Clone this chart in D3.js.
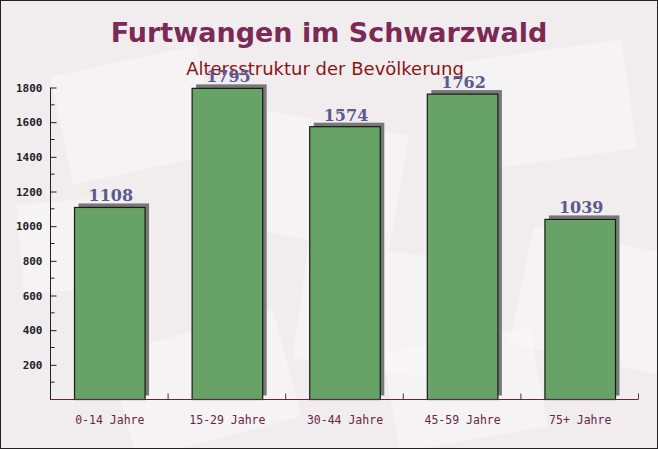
<!DOCTYPE html>
<html><head><meta charset="utf-8">
<script src="https://cdn.jsdelivr.net/npm/d3@7"></script>
<style>html,body{margin:0;padding:0;background:#fff}</style>
</head><body>
<script>
const categories = ["0-14 Jahre","15-29 Jahre","30-44 Jahre","45-59 Jahre","75+ Jahre"];
const values = [1108,1795,1574,1762,1039];
const yTicks = [200,400,600,800,1000,1200,1400,1600,1800];
const title = "Furtwangen im Schwarzwald";
const subtitle = "Altersstruktur der Bevölkerung";

const W = 658, H = 449;
const svg = d3.select("body").append("svg").attr("width", W).attr("height", H);

// background
svg.append("rect").attr("x",0).attr("y",0).attr("width",W).attr("height",H).attr("fill","#f1edef");
const deco = svg.append("g");
const shapes = [[60,60,150,110,-12],[230,120,170,120,10],[470,50,160,110,-8],[520,240,150,120,12],[120,330,170,110,-15],[300,250,160,120,8],[20,200,110,90,-5],[390,340,150,100,-10]];
shapes.forEach(s=>{
  deco.append("rect").attr("x",s[0]).attr("y",s[1]).attr("width",s[2]).attr("height",s[3])
    .attr("fill","#faf8f8").attr("opacity",0.55)
    .attr("transform",`rotate(${s[4]},${s[0]+s[2]/2},${s[1]+s[3]/2})`);
});
svg.append("rect").attr("x",0.5).attr("y",0.5).attr("width",W-1).attr("height",H-1)
  .attr("fill","none").attr("stroke","#222").attr("stroke-width",1);

const x = d3.scaleBand().domain(categories).range([51,639]).paddingInner(0.4).paddingOuter(0.2);
const xEdges = d3.scaleBand().domain(categories).range([50,638]).padding(0);
const y = d3.scaleLinear().domain([0,1800]).range([399.5,87.5]);

// titles
svg.append("text").attr("x",329).attr("y",42).attr("text-anchor","middle")
  .attr("font-family","DejaVu Sans, sans-serif").attr("font-weight","bold").attr("font-size",27)
  .attr("fill","#7b2a56").text(title);
svg.append("text").attr("x",325).attr("y",75).attr("text-anchor","middle")
  .attr("font-family","DejaVu Sans, sans-serif").attr("font-size",18)
  .attr("fill","#8b1515").text(subtitle);

// bars
const g = svg.append("g");
g.selectAll("rect.sh").data(values).join("rect").attr("class","sh")
  .attr("x",(d,i)=>x(categories[i])+4).attr("y",d=>y(d)-4)
  .attr("width",x.bandwidth()).attr("height",d=>y(0)-y(d))
  .attr("fill","#6a6a6a").attr("opacity",0.9);
g.selectAll("rect.bar").data(values).join("rect").attr("class","bar")
  .attr("x",(d,i)=>x(categories[i])).attr("y",d=>y(d))
  .attr("width",x.bandwidth()).attr("height",d=>y(0)-y(d))
  .attr("fill","#67a267").attr("stroke","#1a1a1a").attr("stroke-width",1.2);
g.selectAll("text.val").data(values).join("text").attr("class","val")
  .attr("x",(d,i)=>x(categories[i])+x.bandwidth()/2+1).attr("y",d=>y(d)-6)
  .attr("text-anchor","middle").attr("font-family","DejaVu Serif, serif").attr("font-weight","bold")
  .attr("font-size",16).attr("fill","#5a5a8c").text(d=>d);

// y axis
const yAxis = d3.axisLeft(y).tickValues(yTicks).tickSize(6).tickFormat(d3.format("d"));
const ya = svg.append("g").attr("transform","translate(50.5,0)").call(yAxis);
ya.select(".domain").attr("stroke","#222").attr("d","M-0,87.5V399.5");
ya.selectAll(".tick line").attr("stroke","#222").attr("x2",6);
ya.selectAll(".tick text").attr("x",-8).attr("font-family","DejaVu Sans Mono, monospace")
  .attr("font-weight","bold").attr("font-size",11).attr("fill","#222");
const minor = d3.range(100,1800,200);
ya.selectAll("line.minor").data(minor).join("line").attr("class","minor")
  .attr("x1",0).attr("x2",4).attr("y1",d=>y(d)).attr("y2",d=>y(d)).attr("stroke","#222");

// x axis
const xa = svg.append("g").attr("transform","translate(0,399.5)");
xa.append("line").attr("x1",50).attr("x2",638).attr("stroke","#5a2a3a");
xa.selectAll("line.t").data(categories).join("line").attr("class","t")
  .attr("x1",c=>xEdges(c)+xEdges.bandwidth()+0.5).attr("x2",c=>xEdges(c)+xEdges.bandwidth()+0.5)
  .attr("y1",0).attr("y2",-6).attr("stroke","#5a2a3a");
xa.selectAll("text").data(categories).join("text")
  .attr("x",c=>x(c)+x.bandwidth()/2).attr("y",24).attr("text-anchor","middle")
  .attr("font-family","DejaVu Sans Mono, monospace").attr("font-size",11.5)
  .attr("fill","#6b2545").text(c=>c);
</script>
</body></html>
